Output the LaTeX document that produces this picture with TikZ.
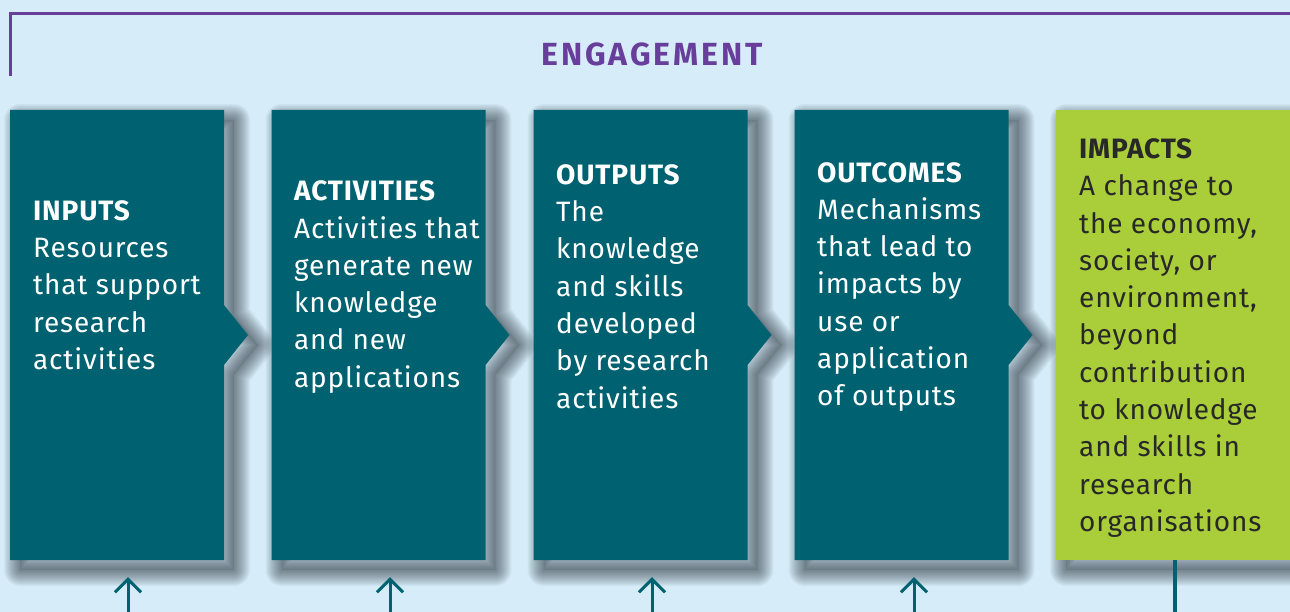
\documentclass[tikz,border=0pt]{standalone}
\usepackage{fontspec}
\setmainfont{Fira Sans}[LetterSpace=3]
\newfontfamily\titlefont{Fira Sans}[LetterSpace=9]
\usetikzlibrary{arrows.meta}
\definecolor{bgblue}{RGB}{214,237,249}
\definecolor{tealbox}{RGB}{0,98,112}
\definecolor{greenbox}{RGB}{170,206,57}
\definecolor{purp}{RGB}{103,62,154}
\definecolor{darktxt}{RGB}{40,40,40}
\definecolor{shade}{RGB}{40,50,60}
\begin{document}
\begin{tikzpicture}[x=1pt,y=-1pt,
  boxarea/.style={draw=none,inner sep=0pt,minimum width=214pt,minimum height=450pt},
  shadowfill/.style={fill=shade,opacity=0.12},
  shadowstroke/.style={draw=shade,opacity=0.042,line join=round},
  txt/.style={anchor=west,inner sep=0pt,align=left,text=white,font=\fontsize{28}{37.3}\selectfont},
  uparrow/.style={draw=tealbox,line width=3pt,-{Straight Barb[length=13pt,width=26pt]},shorten >=17pt}]
\clip (0,0) rectangle (1290,612);
\fill[bgblue] (0,0) rectangle (1290,612);
\draw[purp,line width=3.5pt] (10.5,76) |- (1295,13.5);
\node[font=\titlefont\bfseries\fontsize{32}{32}\selectfont,text=purp] (title) at (652,54) {ENGAGEMENT};
% box areas (anchors)
\node[boxarea] (b1) at (117,335) {};
\node[boxarea] (b2) at (378.5,335) {};
\node[boxarea] (b3) at (640.5,335) {};
\node[boxarea] (b4) at (901.5,335) {};
\node[boxarea,minimum width=254pt] (b5) at (1183,335) {};
% shadows
\begin{scope}[shift={(10,10)}]
\foreach \x in {10,271.5,533.5,794.5}{
  \fill[shadowfill] (\x,110) -- (\x+214,110) -- (\x+214,305) -- (\x+238,335) -- (\x+214,365) -- (\x+214,560) -- (\x,560) -- cycle;
  \foreach \i in {1,...,16}{
    \draw[shadowstroke,line width={2*\i}] (\x,110) -- (\x+214,110) -- (\x+214,305) -- (\x+238,335) -- (\x+214,365) -- (\x+214,560) -- (\x,560) -- cycle;
  }
}
\fill[shadowfill] (1056,110) rectangle (1320,560);
\foreach \i in {1,...,16}{
  \draw[shadowstroke,line width={2*\i}] (1056,110) rectangle (1320,560);
}
\end{scope}
% shapes
\foreach \x in {10,271.5,533.5,794.5}{
  \fill[tealbox] (\x,110) -- (\x+214,110) -- (\x+214,305) -- (\x+238,335) -- (\x+214,365) -- (\x+214,560) -- (\x,560) -- cycle;
}
\fill[greenbox] (b5.north west) rectangle (b5.south east);
% texts
\node[txt] (t1) at (33,285) {\textbf{INPUTS}\\Resources\\that support\\research\\activities};
\node[txt] (t2) at (294,287) {\textbf{ACTIVITIES}\\Activities that\\generate new\\knowledge\\and new\\applications};
\node[txt] (t3) at (556,286.5) {\textbf{OUTPUTS}\\The\\knowledge\\and skills\\developed\\by research\\activities};
\node[txt] (t4) at (817,287) {\textbf{OUTCOMES}\\Mechanisms\\that lead to\\impacts by\\use or\\application\\of outputs};
\node[txt,text=darktxt] (t5) at (1079,338) {\textbf{IMPACTS}\\A change to\\the economy,\\society, or\\environment,\\beyond\\contribution\\to knowledge\\and skills in\\research\\organisations};
% bottom connectors
\coordinate (s1) at (128,612);
\coordinate (s2) at (390,612);
\coordinate (s3) at (652,612);
\coordinate (s4) at (914,612);
\coordinate (s5) at (1175,612);
\draw[uparrow] (s1) -- (s1 |- b1.south);
\draw[uparrow] (s2) -- (s2 |- b2.south);
\draw[uparrow] (s3) -- (s3 |- b3.south);
\draw[uparrow] (s4) -- (s4 |- b4.south);
\draw[draw=tealbox,line width=4pt] (b5.south -| s5) -- (s5);
\end{tikzpicture}
\end{document}
